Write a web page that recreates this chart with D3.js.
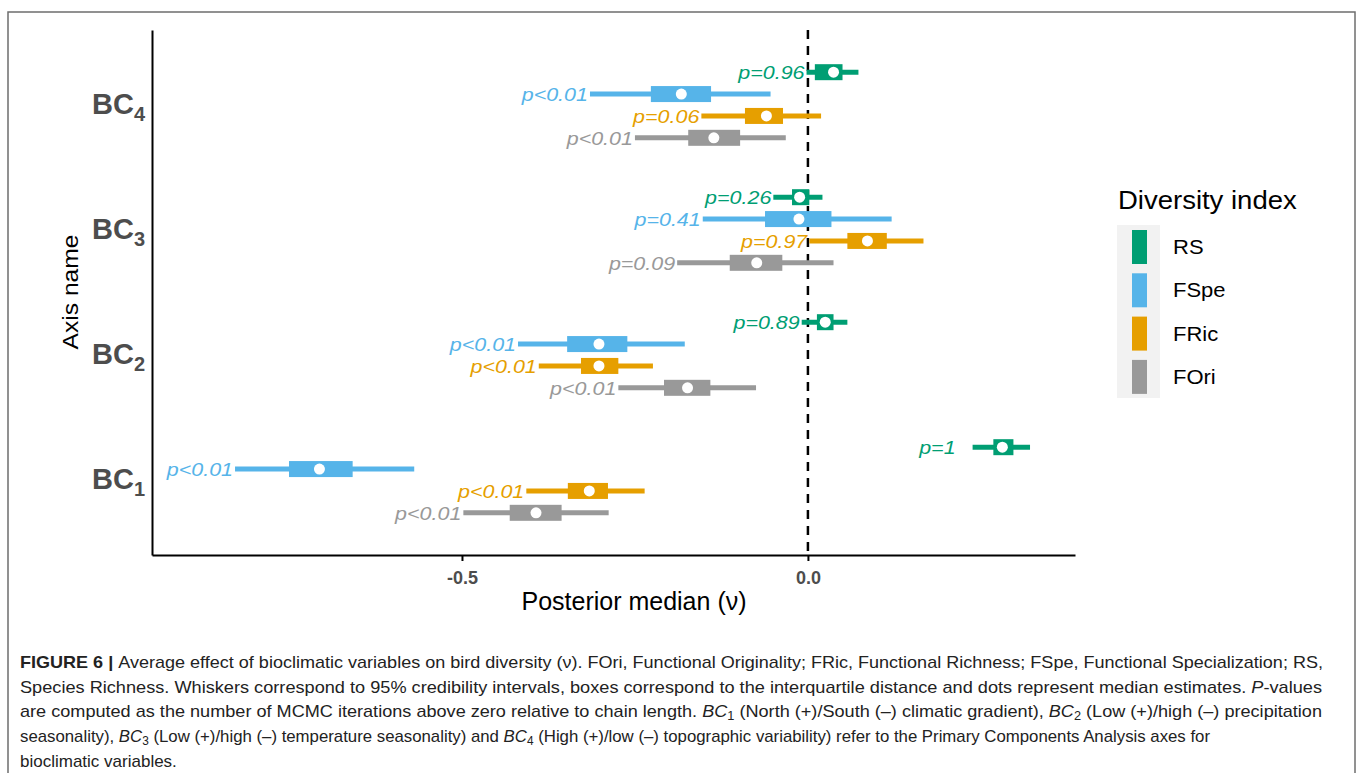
<!DOCTYPE html>
<html>
<head>
<meta charset="utf-8">
<script src="https://cdn.jsdelivr.net/npm/d3@7"></script>
<style>
  body { margin: 0; background: #fff; }
  svg text { font-family: "Liberation Sans", Arial, sans-serif; }
</style>
</head>
<body>
<div class="myViz"></div>
<script>
// bioclimatic axes, bottom to top
var axisNames = ["BC1", "BC2", "BC3", "BC4"];
var indices = ["RS", "FSpe", "FRic", "FOri"];
var indexColors = ["#009E73", "#56B4E9", "#E69F00", "#999999"];

// values per index, in axisNames order (BC1..BC4)
var rsLow  = [0.238, -0.009, -0.050, -0.002];
var rsQ1   = [0.268,  0.013, -0.023,  0.010];
var rsMed  = [0.281,  0.025, -0.012,  0.037];
var rsQ3   = [0.297,  0.037,  0.002,  0.050];
var rsHigh = [0.321,  0.057,  0.021,  0.073];
var rsP    = ["p=1", "p=0.89", "p=0.26", "p=0.96"];

var fspeLow  = [-0.828, -0.419, -0.152, -0.315];
var fspeQ1   = [-0.750, -0.348, -0.062, -0.227];
var fspeMed  = [-0.706, -0.302, -0.013, -0.183];
var fspeQ3   = [-0.658, -0.261,  0.034, -0.140];
var fspeHigh = [-0.569, -0.178,  0.121, -0.054];
var fspeP    = ["p<0.01", "p<0.01", "p=0.41", "p<0.01"];

var fricLow  = [-0.407, -0.389, 0.002, -0.154];
var fricQ1   = [-0.347, -0.328, 0.057, -0.091];
var fricMed  = [-0.316, -0.302, 0.086, -0.060];
var fricQ3   = [-0.289, -0.274, 0.114, -0.036];
var fricHigh = [-0.236, -0.224, 0.167,  0.019];
var fricP    = ["p<0.01", "p<0.01", "p=0.97", "p=0.06"];

var foriLow  = [-0.498, -0.274, -0.189, -0.250];
var foriQ1   = [-0.431, -0.208, -0.113, -0.173];
var foriMed  = [-0.393, -0.174, -0.074, -0.136];
var foriQ3   = [-0.356, -0.141, -0.037, -0.098];
var foriHigh = [-0.288, -0.075,  0.037, -0.032];
var foriP    = ["p<0.01", "p<0.01", "p=0.09", "p<0.01"];

var xTicks = [-0.5, 0.0];

// build long table
var series = {
  RS:   [rsLow, rsQ1, rsMed, rsQ3, rsHigh, rsP],
  FSpe: [fspeLow, fspeQ1, fspeMed, fspeQ3, fspeHigh, fspeP],
  FRic: [fricLow, fricQ1, fricMed, fricQ3, fricHigh, fricP],
  FOri: [foriLow, foriQ1, foriMed, foriQ3, foriHigh, foriP]
};
var data = [];
indices.forEach(function(k) {
  var s = series[k];
  axisNames.forEach(function(a, i) {
    data.push({index: k, axis: a, pos: i + 1,
      lo: s[0][i], q1: s[1][i], med: s[2][i], q3: s[3][i], hi: s[4][i], p: s[5][i]});
  });
});

var W = 1358, H = 773;
var plot = {left: 152, right: 1075, top: 30, bottom: 555};

var svg = d3.select(".myViz").append("svg")
  .attr("width", W).attr("height", H);

// figure frame
svg.append("rect")
  .attr("x", 8).attr("y", 12).attr("width", 1347).attr("height", 800)
  .attr("fill", "none").attr("stroke", "#6e6e6e").attr("stroke-width", 1.5);

var x = d3.scaleLinear().domain([-0.948, 0.386]).range([plot.left, plot.right]);
var y = d3.scaleLinear().domain([0.4, 4.6]).range([plot.bottom, plot.top]);
var color = d3.scaleOrdinal().domain(indices).range(indexColors);
// dodge inside each axis group
var dodge = d3.scaleBand().domain(indices.slice().reverse()).range([-0.35, 0.35]);
function yc(d) { return y(d.pos + dodge(d.index) + dodge.bandwidth() / 2); }

// zero line
svg.append("line")
  .attr("x1", x(0)).attr("x2", x(0))
  .attr("y1", plot.top).attr("y2", plot.bottom)
  .attr("stroke", "#000").attr("stroke-width", 2.5)
  .attr("stroke-dasharray", "9,7");

var rows = svg.append("g").selectAll("g.row")
  .data(data).enter().append("g").attr("class", "row");

rows.append("line")
  .attr("x1", d => x(d.lo)).attr("x2", d => x(d.hi))
  .attr("y1", yc).attr("y2", yc)
  .attr("stroke", d => color(d.index)).attr("stroke-width", 5);

rows.append("rect")
  .attr("x", d => x(d.q1)).attr("width", d => x(d.q3) - x(d.q1))
  .attr("y", d => yc(d) - 8).attr("height", 16)
  .attr("fill", d => color(d.index));

rows.append("circle")
  .attr("cx", d => x(d.med)).attr("cy", yc).attr("r", 5.5)
  .attr("fill", "#fff");

rows.append("text")
  .attr("transform", d => `translate(${x(d.lo) - (d.p === "p=1" ? 17 : 2)},${yc(d) + 7}) scale(1.13,1)`)
  .attr("text-anchor", "end")
  .attr("font-size", 19).attr("font-style", "italic")
  .attr("fill", d => color(d.index))
  .text(d => d.p);

// axes
var xAxis = svg.append("g")
  .attr("transform", `translate(0,${plot.bottom})`)
  .call(d3.axisBottom(x).tickValues(xTicks).tickSize(6).tickSizeOuter(0)
    .tickFormat(d => d3.format(".1f")(d).replace("−", "-")));
xAxis.select(".domain").attr("stroke", "#000").attr("stroke-width", 2);
xAxis.selectAll(".tick line").attr("stroke", "#000").attr("stroke-width", 2);
xAxis.selectAll(".tick text")
  .attr("y", 16).attr("dy", "0.71em")
  .attr("font-family", "Lato, sans-serif").attr("font-weight", "bold")
  .attr("font-size", 18).attr("fill", "#4d4d4d");

var yAxis = svg.append("g")
  .attr("transform", `translate(${plot.left},0)`)
  .call(d3.axisLeft(y).tickValues([1, 2, 3, 4]).tickSize(0).tickSizeOuter(0).tickFormat(""));
yAxis.select(".domain").attr("stroke", "#000").attr("stroke-width", 2);
yAxis.selectAll(".tick text").remove();

var bcLab = svg.append("g").selectAll("text")
  .data(axisNames).enter().append("text")
  .attr("x", plot.left - 7).attr("y", (d, i) => y(i + 1) + 9)
  .attr("text-anchor", "end")
  .attr("font-weight", "bold").attr("font-size", 29).attr("fill", "#4d4d4d");
bcLab.append("tspan").text(d => d.slice(0, 2));
bcLab.append("tspan").attr("dy", 7).attr("font-size", 20).text(d => d.slice(2));

// axis titles
svg.append("text")
  .attr("transform", "translate(78,292) rotate(-90) scale(1.12,1)")
  .attr("text-anchor", "middle").attr("font-size", 22).attr("fill", "#000")
  .text("Axis name");

svg.append("text")
  .attr("x", 634).attr("y", 610)
  .attr("text-anchor", "middle")
  .attr("font-family", "Lato, sans-serif").attr("font-size", 25).attr("fill", "#000")
  .text("Posterior median (\u03bd)");

// legend
var legend = svg.append("g");
legend.append("text")
  .attr("transform", "translate(1118,209) scale(1.1,1)")
  .attr("font-size", 25).attr("fill", "#000")
  .text("Diversity index");
legend.append("rect")
  .attr("x", 1117).attr("y", 225).attr("width", 43).attr("height", 173)
  .attr("fill", "#f2f2f2");
var keys = legend.selectAll("g.key").data(indices).enter().append("g")
  .attr("transform", (d, i) => `translate(1117,${225 + i * 43.3})`);
keys.append("rect")
  .attr("x", 15).attr("y", 5).attr("width", 15).attr("height", 34)
  .attr("fill", d => color(d));
keys.append("text")
  .attr("transform", "translate(56,29) scale(1.1,1)")
  .attr("font-size", 20).attr("fill", "#000")
  .text(d => d);

// caption
var cap = svg.append("g").attr("font-size", 17).attr("fill", "#222");
var capLines = [
  [["b", "FIGURE 6 | "], ["", "Average effect of bioclimatic variables on bird diversity (\u03bd). FOri, Functional Originality; FRic, Functional Richness; FSpe, Functional Specialization; RS,"]],
  [["", "Species Richness. Whiskers correspond to 95% credibility intervals, boxes correspond to the interquartile distance and dots represent median estimates. "], ["i", "P"], ["", "-values"]],
  [["", "are computed as the number of MCMC iterations above zero relative to chain length. "], ["i", "BC"], ["s", "1"], ["", " (North (+)/South (\u2013) climatic gradient), "], ["i", "BC"], ["s", "2"], ["", " (Low (+)/high (\u2013) precipitation"]],
  [["", "seasonality), "], ["i", "BC"], ["s", "3"], ["", " (Low (+)/high (\u2013) temperature seasonality) and "], ["i", "BC"], ["s", "4"], ["", " (High (+)/low (\u2013) topographic variability) refer to the Primary Components Analysis axes for"]],
  [["", "bioclimatic variables."]]
];
var capWidths = [1303, 1302, 1302, 1190, null];
capLines.forEach(function(parts, li) {
  var t = cap.append("text")
    .attr("x", 20).attr("y", 668 + li * 24.7);
  if (capWidths[li]) t.attr("textLength", capWidths[li]).attr("lengthAdjust", "spacingAndGlyphs");
  var afterSub = false;
  parts.forEach(function(p) {
    var ts = t.append("tspan").text(p[1]);
    if (p[0] === "b") ts.attr("font-weight", "bold");
    if (p[0] === "i") ts.attr("font-style", "italic");
    if (p[0] === "s") ts.attr("font-size", 12).attr("dy", 3);
    else if (afterSub) ts.attr("dy", -3);
    afterSub = p[0] === "s";
  });
});
</script>
</body>
</html>
